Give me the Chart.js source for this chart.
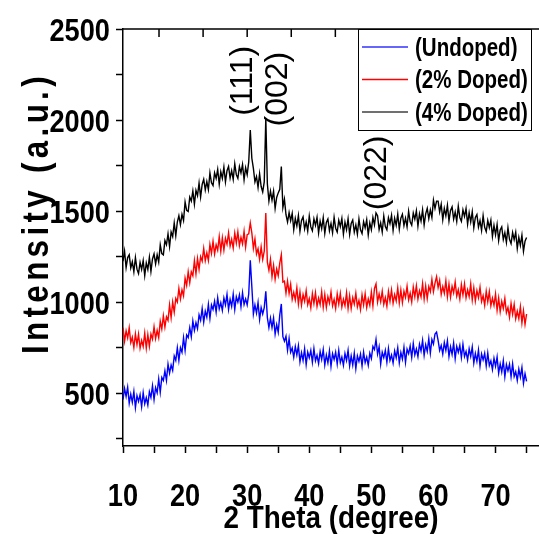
<!DOCTYPE html>
<html lang="en">
<head>
<meta charset="UTF-8">
<title>XRD - Intensity vs 2 Theta</title>
<script src="https://cdn.jsdelivr.net/npm/chart.js@4.4.1/dist/chart.umd.min.js"></script>
<style>
    html, body { margin: 0; padding: 0; background: #fff; }
    .chart-container { position: relative; width: 539px; height: 534px; }
</style>
</head>
<body>
<div class="chart-container"><canvas id="xrdChart"></canvas></div>
<script>
// 2 theta grid: 10 -> 75 deg, one reading every 0.25 deg
const thetaStart = 10;
const thetaStep = 0.25;

const undoped = [
    465, 526, 482, 533, 445, 495, 450, 510,
    420, 487, 455, 492, 425, 503, 442, 476,
    435, 508, 477, 541, 465, 531, 502, 578,
    505, 587, 570, 623, 570, 660, 610, 655,
    625, 705, 680, 750, 680, 750, 725, 805,
    735, 820, 805, 860, 810, 897, 845, 888,
    855, 930, 900, 965, 890, 951, 917, 988,
    910, 985, 960, 1005, 945, 1024, 963, 997,
    955, 1023, 985, 1043, 960, 1016, 977, 1044,
    960, 1030, 1000, 1040, 975, 1051, 987, 1018,
    985, 1045, 1230, 1085, 935, 985, 940, 998,
    905, 970, 935, 970, 1060, 915, 860, 912,
    860, 913, 825, 877, 835, 930, 990, 810,
    785, 813, 736, 800, 725, 748, 697, 756,
    710, 761, 672, 723, 680, 744, 657, 726,
    695, 735, 670, 745, 678, 708, 663, 728,
    685, 740, 655, 710, 667, 732, 647, 717,
    685, 725, 660, 735, 668, 698, 653, 718,
    680, 735, 650, 705, 655, 720, 635, 705,
    675, 715, 650, 725, 668, 698, 653, 720,
    690, 757, 740, 795, 715, 755, 660, 725,
    695, 735, 670, 745, 680, 710, 665, 732,
    695, 750, 667, 724, 687, 752, 669, 742,
    717, 759, 696, 773, 710, 743, 701, 769,
    732, 790, 708, 766, 730, 800, 720, 795,
    770, 825, 835, 790, 735, 762, 715, 778,
    735, 788, 701, 755, 713, 776, 689, 757,
    725, 763, 696, 769, 702, 729, 682, 744,
    702, 754, 666, 718, 675, 737, 649, 716,
    683, 719, 650, 721, 652, 678, 630, 692,
    648, 699, 610, 661, 617, 678, 590, 657,
    623, 659, 590, 661, 592, 618, 570, 632,
    588, 641, 554, 607, 565
];

const doped2 = [
    860, 786, 842, 803, 859, 778, 807, 751,
    825, 767, 824, 747, 790, 757, 830, 748,
    822, 758, 825, 797, 865, 800, 845, 805,
    895, 852, 925, 863, 920, 900, 985, 915,
    1000, 945, 1020, 1000, 1075, 1017, 1068, 1035,
    1132, 1092, 1167, 1107, 1167, 1145, 1228, 1156,
    1240, 1180, 1250, 1225, 1295, 1228, 1271, 1229,
    1317, 1268, 1334, 1265, 1315, 1285, 1360, 1280,
    1353, 1286, 1350, 1318, 1381, 1308, 1345, 1297,
    1379, 1325, 1386, 1311, 1356, 1320, 1389, 1303,
    1370, 1375, 1435, 1380, 1295, 1347, 1265, 1293,
    1235, 1303, 1235, 1280, 1490, 1220, 1175, 1235,
    1140, 1202, 1125, 1182, 1145, 1215, 1260, 1110,
    1115, 1050, 1115, 1048, 1098, 1015, 1054, 1013,
    1079, 990, 1057, 984, 1042, 1005, 1063, 986,
    1019, 968, 1047, 992, 1052, 977, 1022, 987,
    1057, 972, 1042, 972, 1030, 995, 1055, 980,
    1015, 965, 1045, 990, 1048, 973, 1016, 981,
    1051, 966, 1035, 965, 1024, 989, 1049, 974,
    1009, 959, 1040, 985, 1046, 971, 1018, 983,
    1055, 980, 1075, 1100, 1000, 1045, 1003, 1060,
    988, 1025, 977, 1059, 1005, 1067, 994, 1041,
    1007, 1079, 996, 1067, 998, 1060, 1026, 1087,
    1013, 1050, 1001, 1083, 1029, 1090, 1017, 1063,
    1029, 1101, 1017, 1088, 1020, 1085, 1057, 1125,
    1058, 1105, 1140, 1080, 1120, 1043, 1086, 1049,
    1117, 1030, 1099, 1028, 1087, 1051, 1110, 1034,
    1068, 1017, 1096, 1040, 1100, 1023, 1067, 1031,
    1100, 1012, 1079, 1006, 1063, 1025, 1082, 1004,
    1036, 983, 1060, 1002, 1058, 980, 1022, 983,
    1045, 956, 1022, 948, 1004, 965, 1021, 942,
    971, 917, 993, 934, 988, 909, 950, 910,
    975, 886, 952, 878, 935
];

const doped4 = [
    1225, 1280, 1190, 1245, 1260, 1188, 1222, 1166,
    1245, 1181, 1157, 1218, 1180, 1228, 1146, 1215,
    1180, 1247, 1169, 1237, 1265, 1210, 1260, 1220,
    1315, 1267, 1260, 1338, 1315, 1375, 1305, 1385,
    1360, 1435, 1365, 1440, 1475, 1426, 1482, 1448,
    1550, 1504, 1498, 1577, 1555, 1611, 1538, 1614,
    1585, 1654, 1577, 1646, 1675, 1616, 1662, 1618,
    1710, 1655, 1640, 1710, 1680, 1729, 1647, 1716,
    1680, 1742, 1660, 1722, 1745, 1681, 1722, 1674,
    1760, 1700, 1680, 1745, 1710, 1756, 1672, 1738,
    1700, 1770, 1945, 1790, 1735, 1660, 1690, 1630,
    1705, 1635, 1605, 1660, 2010, 1650, 1555, 1610,
    1560, 1610, 1515, 1575, 1600, 1620, 1745, 1520,
    1565, 1480, 1440, 1492, 1447, 1487, 1398, 1460,
    1418, 1476, 1390, 1449, 1468, 1402, 1441, 1390,
    1473, 1413, 1392, 1457, 1421, 1466, 1380, 1445,
    1404, 1464, 1378, 1438, 1457, 1392, 1432, 1381,
    1466, 1406, 1385, 1450, 1415, 1460, 1374, 1439,
    1398, 1458, 1372, 1432, 1451, 1385, 1424, 1373,
    1457, 1397, 1377, 1442, 1408, 1453, 1369, 1435,
    1398, 1465, 1425, 1490, 1475, 1398, 1435, 1385,
    1473, 1415, 1397, 1464, 1431, 1477, 1394, 1460,
    1422, 1483, 1400, 1461, 1483, 1420, 1461, 1413,
    1499, 1441, 1422, 1489, 1455, 1502, 1418, 1485,
    1446, 1507, 1424, 1485, 1515, 1458, 1506, 1465,
    1560, 1515, 1555, 1555, 1495, 1538, 1452, 1515,
    1474, 1532, 1446, 1504, 1523, 1456, 1495, 1443,
    1527, 1465, 1444, 1507, 1471, 1514, 1428, 1491,
    1440, 1497, 1408, 1465, 1481, 1412, 1448, 1394,
    1475, 1411, 1387, 1448, 1409, 1450, 1361, 1422,
    1370, 1427, 1339, 1396, 1413, 1344, 1381, 1328,
    1409, 1345, 1321, 1382, 1343, 1384, 1295, 1356,
    1312, 1368, 1279, 1335, 1355
];

const seriesLabels = ['(Undoped)', '(2% Doped)', '(4% Doped)'];
const seriesColors = ['#0000ff', '#ff0000', '#000000'];

const xTickValues = [10, 15, 20, 25, 30, 35, 40, 45, 50, 55, 60, 65, 70, 75];
const xLabelValues = [10, 20, 30, 40, 50, 60, 70];
const topTickValues = [15.8, 22.9, 30, 37.1, 44.2, 51.3, 58.4, 65.5, 72.6];
const yTickValues = [250, 500, 750, 1000, 1250, 1500, 1750, 2000, 2250, 2500];
const yLabelValues = [500, 1000, 1500, 2000, 2500];

// reflexions marquees sur le diagramme
const peakLabels = ['(111)', '(002)', '(022)'];
const peakTheta = [29.3, 35.0, 51.0];
const peakIntensity = [2215, 2170, 1710];

const sans = "'Liberation Sans', Arial, sans-serif";

function toPoints(values) {
    return values.map((v, i) => ({ x: thetaStart + i * thetaStep, y: v }));
}

// texte gras "etroit" : Liberation Sans compresse horizontalement
function narrowText(ctx, text, x, y, opts) {
    ctx.save();
    ctx.translate(x, y);
    if (opts.rotate) ctx.rotate(opts.rotate);
    ctx.scale(opts.squeeze || 0.85, 1);
    ctx.font = `${opts.weight || 'bold'} ${opts.size}px ${sans}`;
    ctx.fillStyle = '#000';
    ctx.textAlign = opts.align || 'center';
    ctx.textBaseline = 'alphabetic';
    if (opts.spacing) ctx.letterSpacing = opts.spacing;
    ctx.fillText(text, 0, 0);
    ctx.restore();
}

const overlayPlugin = {
    id: 'overlay',
    afterDraw(chart) {
        const { ctx, scales, chartArea } = chart;
        const xs = scales.x, ys = scales.y;

        // cadre du haut avec ses graduations vers l'interieur
        ctx.save();
        ctx.strokeStyle = '#000';
        ctx.lineWidth = 1.5;
        ctx.beginPath();
        ctx.moveTo(chartArea.left, chartArea.top);
        ctx.lineTo(chartArea.right, chartArea.top);
        topTickValues.forEach(v => {
            const px = xs.getPixelForValue(v);
            ctx.moveTo(px, chartArea.top);
            ctx.lineTo(px, chartArea.top + 8);
        });
        ctx.stroke();
        ctx.restore();

        // graduations
        xLabelValues.forEach(v => {
            narrowText(ctx, String(v), xs.getPixelForValue(v), 506, { size: 32 });
        });
        yLabelValues.forEach(v => {
            narrowText(ctx, String(v), 110, ys.getPixelForValue(v) + 11.5, { size: 32, align: 'right' });
        });

        // titres des axes
        narrowText(ctx, '2 Theta (degree)', (chartArea.left + chartArea.right) / 2, 528, { size: 32, squeeze: 0.87 });
        narrowText(ctx, 'Intensity (a.u.)', 48, 213, { size: 36, squeeze: 0.87, rotate: -Math.PI / 2, spacing: '5px' });

        // indices de Miller
        peakLabels.forEach((label, i) => {
            ctx.save();
            ctx.fillStyle = '#000';
            ctx.font = `32px ${sans}`;
            ctx.textAlign = 'center';
            ctx.textBaseline = 'middle';
            ctx.translate(xs.getPixelForValue(peakTheta[i]), ys.getPixelForValue(peakIntensity[i]));
            ctx.rotate(-Math.PI / 2);
            ctx.fillText(label, 0, 0);
            ctx.restore();
        });

        // legende encadree
        ctx.save();
        ctx.fillStyle = '#fff';
        ctx.fillRect(358, 29, 173, 101);
        ctx.strokeStyle = '#000';
        ctx.lineWidth = 1;
        ctx.strokeRect(358.5, 29.5, 173, 101);
        chart.data.datasets.forEach((ds, i) => {
            const y = 47 + i * 32.5;
            ctx.strokeStyle = ds.borderColor;
            ctx.lineWidth = i === 0 ? 2 : 1.5;
            ctx.globalAlpha = i === 0 ? 0.6 : (i === 2 ? 0.75 : 1);
            ctx.beginPath();
            ctx.moveTo(362, y);
            ctx.lineTo(408, y);
            ctx.stroke();
            ctx.globalAlpha = 1;
            narrowText(ctx, ds.label, 415, y + 8.5, { size: 25, align: 'left', squeeze: 0.82 });
        });
        ctx.restore();
    }
};

const ctx = document.getElementById('xrdChart').getContext('2d');
const chart = new Chart(ctx, {
    type: 'line',
    data: {
        datasets: [undoped, doped2, doped4].map((vals, i) => ({
            label: seriesLabels[i],
            data: toPoints(vals),
            borderColor: seriesColors[i],
            borderWidth: 1.4,
            pointRadius: 0,
            tension: 0,
            fill: false
        }))
    },
    options: {
        responsive: true,
        maintainAspectRatio: false,
        devicePixelRatio: 1,
        animation: false,
        layout: { padding: { top: 29, right: 0, bottom: 0, left: 0 } },
        plugins: {
            legend: { display: false },
            tooltip: { enabled: false }
        },
        scales: {
            x: {
                type: 'linear',
                position: 'bottom',
                min: 10,
                max: 77,
                afterBuildTicks: s => { s.ticks = xTickValues.map(v => ({ value: v })); },
                afterFit: s => { s.height = 88; },
                ticks: { display: false },
                grid: { drawOnChartArea: false, drawTicks: true, tickLength: 7, color: '#000', tickWidth: 1.5 },
                border: { display: true, color: '#000', width: 1.5 }
            },
            y: {
                type: 'linear',
                min: 210,
                max: 2500,
                afterBuildTicks: s => { s.ticks = yTickValues.map(v => ({ value: v })); },
                afterFit: s => { s.width = 123; },
                ticks: { display: false },
                grid: { drawOnChartArea: false, drawTicks: true, tickLength: 7, color: '#000', tickWidth: 1.5 },
                border: { display: true, color: '#000', width: 1.5 }
            }
        }
    },
    plugins: [overlayPlugin]
});
</script>
</body>
</html>
